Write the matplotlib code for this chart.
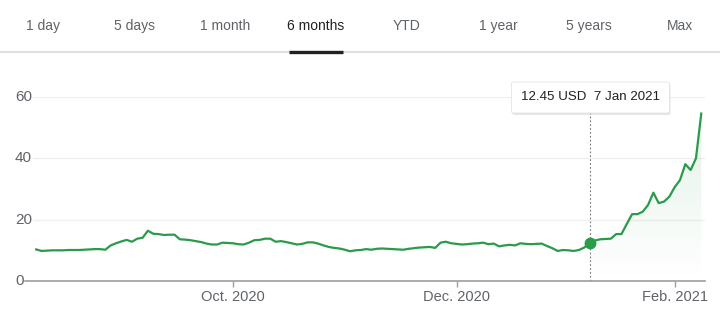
import numpy as np
import pandas as pd
import matplotlib
matplotlib.use('Agg')
import matplotlib.pyplot as plt
import matplotlib.transforms as mtransforms
from matplotlib.lines import Line2D
from matplotlib.patches import FancyBboxPatch, Polygon
from matplotlib.colors import to_rgb

plt.rcParams['font.family'] = ['Liberation Sans', 'DejaVu Sans']

# range tabs shown above the chart
tabs = ['1 day', '5 days', '1 month', '6 months', 'YTD', '1 year', '5 years', 'Max']
active_tab = '6 months'

# trading days (US market holidays left out), one close each
holidays = ['2020-09-07', '2020-11-26', '2020-12-25', '2021-01-01', '2021-01-18']
dates = pd.bdate_range('2020-08-10', '2021-02-08', freq='C', holidays=holidays)
prices = [
    # Aug
    10.3, 9.8, 9.9, 10.0, 10.0, 10.0, 10.1, 10.1, 10.1, 10.2,
    10.3, 10.4, 10.4, 10.2, 11.6, 12.3,
    # Sep
    12.9, 13.4, 12.8, 13.8, 14.1, 16.4, 15.4, 15.3, 15.0, 15.1,
    15.1, 13.6, 13.5, 13.3, 13.0, 12.7, 12.2, 11.9, 11.9, 12.5, 12.4,
    # Oct
    12.3, 12.0, 11.9, 12.5, 13.3, 13.4, 13.8, 13.8, 12.8, 13.0,
    12.7, 12.3, 11.9, 12.1, 12.6, 12.6, 12.2, 11.6, 11.1, 10.8, 10.6, 10.2,
    # Nov
    9.7, 10.0, 10.1, 10.4, 10.2, 10.5, 10.6, 10.5, 10.4, 10.3,
    10.2, 10.5, 10.7, 10.9, 11.0, 11.1, 10.8, 12.5, 12.8, 12.3,
    # Dec
    12.1, 11.9, 12.0, 12.2, 12.3, 12.5, 12.0, 12.2, 11.3, 11.6,
    11.8, 11.6, 12.3, 12.1, 12.0, 12.1, 12.2, 11.4, 10.7, 9.8, 10.1, 10.0,
    # Jan
    9.8, 10.1, 10.9, 12.45, 13.2, 13.6, 13.7, 13.8, 15.3, 15.3,
    18.6, 21.8, 21.8, 22.6, 24.8, 28.8, 25.4, 25.9, 27.5,
    # Feb
    30.6, 32.9, 38.1, 36.2, 40.0, 54.6,
]

y_ticks = [0, 20, 40, 60]
x_ticks = ['2020-10-01', '2020-12-01', '2021-02-01']
x_tick_labels = ['Oct. 2020', 'Dec. 2020', 'Feb. 2021']

hover_date = '2021-01-07'
hover_text = '12.45 USD  7 Jan 2021'

GREEN = '#2a9a4b'
GRAY_TXT = '#5f6368'

W, H = 720, 320
fig = plt.figure(figsize=(W / 100, H / 100), dpi=100)

def fx(px):
    return px / W

def fy(py):
    # py measured from the top of the picture
    return 1 - py / H

# ---- tabs ----
tab_centers = np.linspace(43, 680, len(tabs))
for name, cx in zip(tabs, tab_centers):
    col = '#202124' if name == active_tab else GRAY_TXT
    fig.text(fx(cx), fy(26), name, ha='center', va='center', fontsize=10, color=col)
fig.add_artist(Line2D([0, 1], [fy(52), fy(52)], color='#e0e0e0', lw=1.6))
i_act = tabs.index(active_tab)
fig.add_artist(Line2D([fx(tab_centers[i_act] - 27), fx(tab_centers[i_act] + 27)],
                      [fy(52), fy(52)], color='#202124', lw=2.4,
                      solid_capstyle='butt'))

# ---- chart axes (x = trading-day index, like the original) ----
ax = fig.add_axes([fx(25), fy(281), fx(705) - fx(25), fy(97) - fy(281)])
xi = np.arange(len(dates))
vals = np.array(prices)
tick_idx = [dates.get_loc(pd.Timestamp(t)) for t in x_ticks]
ax.set_xlim(-2.1, len(dates) - 0.3)
ax.set_ylim(0, 60)

for s in ['top', 'right', 'left']:
    ax.spines[s].set_visible(False)
ax.spines['bottom'].set_color('#9e9e9e')
ax.spines['bottom'].set_linewidth(1.2)

for yv in y_ticks[1:]:
    ax.axhline(yv, xmin=8 / 680, xmax=1, color='#efefef', lw=0.9, zorder=0)

ax.set_yticks([])
ytrans = mtransforms.blended_transform_factory(fig.transFigure, ax.transData)
for yv in y_ticks:
    ax.text(fx(15), yv, str(yv), transform=ytrans, ha='left', va='center',
            fontsize=11, color=GRAY_TXT)

ax.set_xticks(tick_idx)
ax.set_xticklabels(x_tick_labels, fontsize=10.5, color=GRAY_TXT)
ax.tick_params(axis='x', length=4, width=1, color='#9e9e9e', pad=2.5)

# light gradient under the part after the hovered day
hv = dates.get_loc(pd.Timestamp(hover_date))
mask = xi >= hv
poly_pts = list(zip(xi[mask], vals[mask])) + [(xi[-1], 0), (hv, 0)]
poly = Polygon(poly_pts, closed=True, facecolor='none', edgecolor='none')
ax.add_patch(poly)
grad = np.zeros((200, 1, 4))
grad[:, 0, :3] = to_rgb(GREEN)
grad[:, 0, 3] = np.linspace(0.0, 0.13, 200)
im = ax.imshow(grad, extent=[hv, xi[-1], 0, vals.max()],
               origin='lower', aspect='auto', zorder=1, interpolation='bilinear')
im.set_clip_path(poly)

ax.plot(xi, vals, color=GREEN, lw=1.6, zorder=3, solid_joinstyle='round')

# hover marker, guide and tooltip
ax.plot([hv], [vals[hv]], 'o', color=GREEN, ms=7.5, zorder=4)
ax.plot([hv, hv], [0, 54.7], color='#757575', lw=0.8, ls=(0, (1.5, 2)),
        zorder=2, clip_on=False)

hx_px = ax.transData.transform((hv, 0))[0]
bw, bh = 158, 31
bx0 = hx_px - bw / 2 + 1
by_top = 82
shadow = FancyBboxPatch((fx(bx0 + 1), fy(by_top + bh + 2)), fx(bw), bh / H,
                        boxstyle='round,pad=0,rounding_size=0.004',
                        transform=fig.transFigure, facecolor='#000000',
                        alpha=0.10, edgecolor='none', zorder=5)
fig.add_artist(shadow)
box = FancyBboxPatch((fx(bx0), fy(by_top + bh)), fx(bw), bh / H,
                     boxstyle='round,pad=0,rounding_size=0.004',
                     transform=fig.transFigure, facecolor='white',
                     edgecolor='#e4e4e4', lw=0.6, zorder=6)
fig.add_artist(box)
fig.text(fx(bx0 + bw / 2), fy(by_top + bh / 2), hover_text, ha='center',
         va='center', fontsize=9.6, color='#202124', zorder=7)

fig.savefig('out.png', dpi=100)
